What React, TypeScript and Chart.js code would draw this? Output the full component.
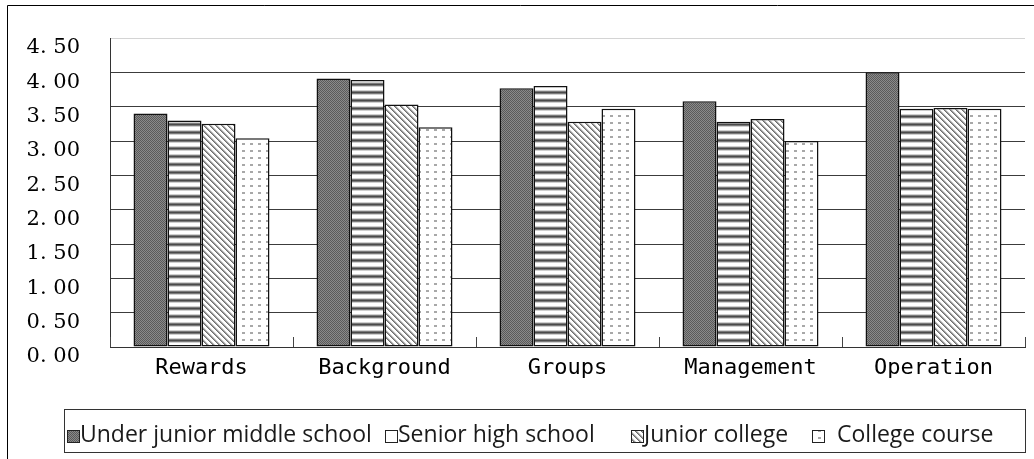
import { useEffect, useRef } from 'react';
import { Chart, registerables } from 'chart.js';

Chart.register(...registerables);

const categories = ['Rewards', 'Background', 'Groups', 'Management', 'Operation'];
const seriesNames = ['Under junior middle school', 'Senior high school', 'Junior college', 'College course'];
const underJuniorMiddle = [3.40, 3.91, 3.77, 3.58, 4.00];
const seniorHigh = [3.30, 3.89, 3.80, 3.28, 3.47];
const juniorCollege = [3.25, 3.53, 3.28, 3.32, 3.48];
const collegeCourse = [3.04, 3.20, 3.47, 3.00, 3.47];
const yMin = 0;
const yMax = 4.5;
const yStep = 0.5;

function makePattern(w: number, h: number, draw: (g: CanvasRenderingContext2D) => void) {
  const c = document.createElement('canvas');
  c.width = w;
  c.height = h;
  const g = c.getContext('2d')!;
  draw(g);
  return g.createPattern(c, 'repeat')!;
}

function buildPatterns() {
  const dark = makePattern(2, 2, (g) => {
    g.fillStyle = '#8a8a8a';
    g.fillRect(0, 0, 2, 2);
    g.fillStyle = '#5a5a5a';
    g.fillRect(0, 0, 1, 1);
    g.fillRect(1, 1, 1, 1);
  });
  const horiz = makePattern(4, 8, (g) => {
    const rows = ['#ffffff', '#ffffff', '#d0d0d0', '#7a7a7a', '#4a4a4a', '#7a7a7a', '#d0d0d0', '#ffffff'];
    rows.forEach((c, i) => {
      g.fillStyle = c;
      g.fillRect(0, i, 4, 1);
    });
  });
  const diag = makePattern(6, 6, (g) => {
    g.fillStyle = '#ffffff';
    g.fillRect(0, 0, 6, 6);
    for (let y = 0; y < 6; y++) {
      for (let x = 0; x < 6; x++) {
        const d = (((x - y) % 6) + 6) % 6;
        if (d === 0 || d === 1) {
          g.fillStyle = d === 0 ? '#6e6e6e' : '#9a9a9a';
          g.fillRect(x, y, 1, 1);
        } else if (d === 2) {
          g.fillStyle = '#cfcfcf';
          g.fillRect(x, y, 1, 1);
        }
      }
    }
  });
  const dots = makePattern(8, 7, (g) => {
    g.fillStyle = '#ffffff';
    g.fillRect(0, 0, 8, 7);
    g.fillStyle = '#a8a8a8';
    g.fillRect(2, 3, 3, 2);
  });
  return [dark, horiz, diag, dots];
}

export default function App() {
  const ref = useRef<HTMLCanvasElement | null>(null);

  useEffect(() => {
    const canvas = ref.current!;
    const patterns = buildPatterns();
    const values = [underJuniorMiddle, seniorHigh, juniorCollege, collegeCourse];

    const decor = {
      id: 'decor',
      afterDraw(chart: any) {
        const ctx = chart.ctx as CanvasRenderingContext2D;
        const { bottom } = chart.chartArea;
        const xs = chart.scales.x;
        ctx.save();
        // outer frame
        ctx.strokeStyle = '#000';
        ctx.lineWidth = 1;
        ctx.beginPath();
        ctx.moveTo(7.5, chart.height);
        ctx.lineTo(7.5, 5.5);
        ctx.lineTo(chart.width, 5.5);
        ctx.stroke();
        // category boundary ticks (pointing up)
        const half = (xs.getPixelForValue(1) - xs.getPixelForValue(0)) / 2;
        ctx.strokeStyle = '#444';
        ctx.beginPath();
        for (let i = 0; i <= categories.length; i++) {
          const px = Math.round(xs.getPixelForValue(i) - half) + 0.5;
          ctx.moveTo(px, bottom);
          ctx.lineTo(px, bottom - 10);
        }
        ctx.stroke();
        // legend
        ctx.strokeStyle = '#333';
        ctx.strokeRect(64.5, 409.5, 961, 43);
        const swatchX = [67, 385, 631, 812];
        const textX = [80, 398, 644, 837];
        ctx.font = '23px "Open Sans"';
        ctx.textBaseline = 'alphabetic';
        chart.data.datasets.forEach((ds: any, i: number) => {
          ctx.fillStyle = i === 1 ? '#ffffff' : ds.backgroundColor;
          ctx.fillRect(swatchX[i], 430, 12, 12);
          ctx.strokeStyle = '#222';
          ctx.strokeRect(swatchX[i] + 0.5, 430.5, 12, 12);
          ctx.fillStyle = '#1a1a1a';
          ctx.fillText(ds.label, textX[i], 442);
        });
        ctx.restore();
      },
    };

    const chart = new Chart(canvas, {
      type: 'bar',
      data: {
        labels: categories,
        datasets: seriesNames.map((name, i) => ({
          label: name,
          data: values[i],
          backgroundColor: patterns[i] as any,
          borderColor: '#111',
          borderWidth: 1.5,
          borderSkipped: false,
          barPercentage: 1,
          categoryPercentage: 0.743,
        })),
      },
      options: {
        responsive: false,
        animation: false,
        devicePixelRatio: 1,
        layout: { padding: { left: 10, right: 9, top: 38, bottom: 0 } },
        plugins: { legend: { display: false }, tooltip: { enabled: false } },
        scales: {
          x: {
            grid: { display: false, drawTicks: false },
            border: { display: true, color: '#333', width: 1 },
            ticks: {
              font: { family: 'DejaVu Sans Mono', size: 22 },
              color: '#000',
              padding: 8,
              maxRotation: 0,
              autoSkip: false,
            },
            afterFit: (s: any) => {
              s.height = 112;
              s.paddingLeft = 0;
              s.paddingRight = 0;
            },
          },
          y: {
            min: yMin,
            max: yMax,
            grid: {
              drawTicks: false,
              lineWidth: 1,
              color: (c: any) => (c.tick && c.tick.value === yMax ? '#d4d4d4' : '#3c3c3c'),
            },
            border: { display: true, color: '#333', width: 1 },
            ticks: {
              stepSize: yStep,
              padding: 30,
              labelOffset: 10,
              color: '#000',
              font: { family: 'DejaVu Serif', size: 21 },
              callback: (v: any) => {
                const s = Number(v).toFixed(2);
                return s.replace('.', '. ');
              },
            },
            afterFit: (s: any) => {
              s.width = 100;
              s.paddingTop = 0;
              s.paddingBottom = 0;
            },
          },
        },
      },
      plugins: [decor],
    });
    return () => chart.destroy();
  }, []);

  return (
    <div style={{ position: 'absolute', left: 0, top: 0, width: 1034, height: 459, background: '#fff' }}>
      <canvas ref={ref} width={1034} height={459} />
    </div>
  );
}
